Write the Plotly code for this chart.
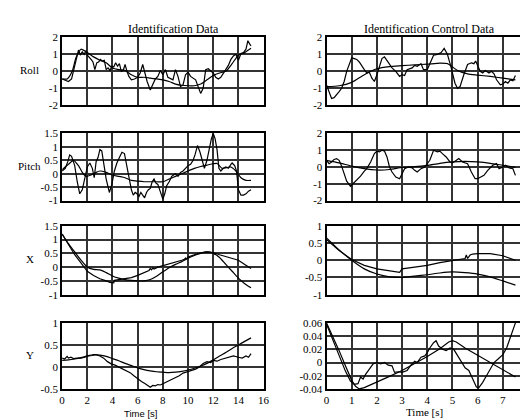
import plotly.graph_objects as go

# ---------------- data (time [s], value) ----------------
roll_id_meas = [(0,-0.45),(0.25,-0.55),(0.5,-0.6),(0.75,-0.45),(1.0,0.4),(1.15,0.9),(1.3,1.25),(1.45,0.95),
    (1.6,1.15),(1.75,1.0),(1.9,1.2),(2.0,0.95),(2.15,0.85),(2.3,0.7),(2.45,0.55),(2.6,0.1),(2.75,0.5),
    (2.9,0.55),(3.05,0.7),(3.2,0.6),(3.35,0.65),(3.5,0.1),(3.65,0.2),(3.8,0.05),(3.95,0.3),(4.1,0.25),
    (4.25,0.5),(4.4,0.3),(4.55,0.45),(4.7,0.0),(4.85,0.05),(5.0,0.4),(5.15,0.0),(5.3,-0.3),(5.5,-0.5),
    (5.75,-0.45),(6.0,-0.35),(6.2,-0.1),(6.4,0.4),(6.55,0.0),(6.75,-0.6),(7.0,-1.1),(7.2,-0.75),(7.4,-0.45),
    (7.6,-0.3),(7.8,0.05),(8.0,-0.2),(8.2,0.1),(8.4,-0.35),(8.6,-0.45),(8.8,-0.5),(9.0,0.1),(9.2,-0.3),
    (9.4,-0.9),(9.6,-0.8),(9.8,-0.2),(10.0,-0.05),(10.2,-0.3),(10.4,-0.4),(10.6,-0.5),(10.8,-0.9),(11.0,-1.3),
    (11.2,-1.0),(11.4,0.1),(11.6,0.15),(11.8,0.0),(12.0,-0.1),(12.2,-0.35),(12.4,-0.45),(12.6,-0.35),
    (12.8,-0.1),(13.0,0.1),(13.2,0.35),(13.4,0.7),(13.6,0.9),(13.8,1.0),(14.0,0.65),(14.2,1.05),(14.4,1.1),
    (14.6,1.3),(14.75,1.8),(14.9,1.6),(15.0,1.5)]
roll_id_model = [(0,-0.45),(0.4,-0.45),(0.8,0.0),(1.1,0.8),(1.5,1.3),(2.0,1.1),(2.5,0.85),(3.0,0.65),
    (3.5,0.5),(4.0,0.2),(4.5,0.1),(5.0,0.05),(5.5,-0.2),(6.0,-0.35),(6.5,-0.35),(7.0,-0.4),(7.5,-0.45),
    (8.0,-0.5),(8.5,-0.6),(9.0,-0.75),(9.5,-0.82),(10.0,-0.85),(10.5,-0.85),(11.0,-0.75),(11.5,-0.5),
    (12.0,-0.25),(12.5,-0.1),(13.0,0.0),(13.5,0.45),(14.0,0.95),(14.5,1.1),(15.0,1.35)]

pitch_id_meas = [(0,0.1),(0.25,0.2),(0.45,0.45),(0.6,0.7),(0.75,0.65),(1.0,0.3),(1.2,-0.3),(1.4,-0.75),
    (1.6,-0.6),(1.8,-0.2),(2.0,0.25),(2.2,0.4),(2.4,0.2),(2.55,-0.15),(2.7,0.45),(2.85,0.6),(3.0,0.9),
    (3.15,0.85),(3.3,0.4),(3.5,-0.2),(3.75,-0.7),(3.95,-0.4),(4.15,0.1),(4.35,0.4),(4.55,0.6),(4.75,0.8),
    (4.95,0.75),(5.15,0.2),(5.35,-0.3),(5.5,-0.6),(5.65,-0.8),(5.8,-0.7),(5.95,-0.75),(6.1,-0.85),
    (6.25,-0.7),(6.4,-0.8),(6.55,-0.9),(6.7,-0.7),(6.85,-0.6),(7.0,-0.55),(7.15,-0.3),(7.3,-0.2),
    (7.45,-0.35),(7.6,-0.4),(7.8,-0.7),(8.0,-0.95),(8.15,-0.75),(8.3,-0.45),(8.5,-0.3),(8.7,-0.1),
    (8.85,-0.05),(9.0,0.0),(9.2,-0.1),(9.4,0.05),(9.6,0.1),(9.8,0.2),(10.0,0.3),(10.2,0.35),(10.4,0.5),
    (10.55,0.7),(10.75,1.05),(10.95,0.8),(11.1,0.5),(11.3,0.2),(11.5,0.5),(11.7,1.0),(11.85,1.3),
    (12.0,1.5),(12.15,1.3),(12.3,0.9),(12.45,0.2),(12.6,0.1),(12.8,0.2),(13.0,0.25),(13.2,0.2),
    (13.4,0.35),(13.5,0.4),(13.7,0.3),(13.85,0.1),(14.0,-0.6),(14.2,-0.8),(14.4,-0.8),(14.6,-0.75),
    (14.8,-0.65),(15.0,-0.6)]
pitch_id_model = [(0,0.15),(0.5,0.35),(0.9,0.5),(1.3,0.3),(1.6,0.05),(1.9,-0.1),(2.3,-0.05),(2.7,0.05),
    (3.0,0.1),(3.5,0.05),(4.0,-0.05),(4.5,-0.1),(5.0,-0.15),(5.5,-0.25),(6.0,-0.28),(6.5,-0.3),(7.0,-0.3),
    (7.5,-0.3),(8.0,-0.3),(8.5,-0.2),(9.0,-0.1),(9.5,0.0),(10.0,0.1),(10.5,0.2),(11.0,0.27),(11.5,0.32),
    (12.0,0.37),(12.3,0.38),(12.7,0.2),(13.0,0.22),(13.4,0.25),(13.8,0.1),(14.2,-0.15),(14.6,-0.25),
    (15.0,-0.25)]

x_id_meas = [(0,1.2),(0.3,0.95),(0.6,0.75),(1.0,0.45),(1.5,0.15),(2.0,-0.15),(2.5,-0.3),(3.0,-0.42),
    (3.5,-0.5),(3.8,-0.55),(4.1,-0.57),(4.15,-0.48),(4.5,-0.45),(5.0,-0.42),(5.5,-0.38),(6.0,-0.3),
    (6.5,-0.2),(6.9,-0.12),(7.0,-0.05),(7.1,-0.1),(7.2,-0.03),(7.3,-0.07),(7.6,0.0),(8.0,0.05),(8.5,0.1),
    (9.0,0.17),(9.5,0.25),(9.7,0.28),(9.8,0.33),(9.9,0.3),(10.0,0.37),(10.5,0.45),(11.0,0.52),(11.5,0.55),
    (11.8,0.55),(12.0,0.53),(12.5,0.45),(13.0,0.38),(13.5,0.33),(14.0,0.25),(14.5,0.1),(15.0,-0.05)]
x_id_model = [(0,1.2),(0.5,0.85),(1.0,0.55),(1.5,0.25),(2.0,0.0),(2.5,-0.08),(3.0,-0.1),(3.5,-0.2),
    (4.0,-0.32),(4.5,-0.4),(5.0,-0.45),(5.5,-0.48),(6.0,-0.5),(6.5,-0.5),(7.0,-0.45),(7.5,-0.33),
    (8.0,-0.17),(8.5,-0.02),(9.0,0.1),(9.5,0.2),(10.0,0.32),(10.5,0.42),(11.0,0.5),(11.5,0.55),(12.0,0.5),
    (12.5,0.35),(13.0,0.1),(13.5,-0.15),(14.0,-0.4),(14.5,-0.6),(15.0,-0.75)]

y_id_meas = [(0,0.2),(0.2,0.18),(0.4,0.24),(0.5,0.2),(0.7,0.22),(0.9,0.19),(1.2,0.2),(1.5,0.2),(1.8,0.22),
    (2.1,0.25),(2.4,0.26),(2.7,0.28),(3.0,0.25),(3.3,0.2),(3.6,0.12),(3.9,0.07),(4.2,0.04),(4.5,0.0),
    (4.8,-0.05),(5.1,-0.08),(5.4,-0.13),(5.7,-0.2),(6.0,-0.27),(6.3,-0.33),(6.6,-0.38),(6.8,-0.42),
    (7.0,-0.46),(7.2,-0.42),(7.4,-0.43),(7.6,-0.4),(7.8,-0.41),(8.0,-0.38),(8.3,-0.34),(8.6,-0.3),
    (9.0,-0.25),(9.3,-0.2),(9.6,-0.14),(10.0,-0.1),(10.3,-0.07),(10.6,-0.05),(10.9,0.0),(11.2,0.08),
    (11.5,0.12),(11.8,0.1),(12.0,0.15),(12.3,0.13),(12.6,0.17),(13.0,0.2),(13.3,0.22),(13.6,0.25),
    (14.0,0.22),(14.3,0.2),(14.6,0.25),(14.8,0.22),(15.0,0.3)]
y_id_model = [(0,0.15),(0.5,0.16),(1.0,0.18),(1.5,0.21),(2.0,0.25),(2.5,0.28),(3.0,0.27),(3.5,0.24),
    (4.0,0.19),(4.5,0.14),(5.0,0.08),(5.5,0.03),(6.0,-0.02),(6.5,-0.06),(7.0,-0.09),(7.5,-0.11),
    (8.0,-0.12),(8.5,-0.13),(9.0,-0.12),(9.5,-0.1),(10.0,-0.07),(10.5,-0.03),(11.0,0.02),(11.5,0.08),
    (12.0,0.16),(12.5,0.25),(13.0,0.33),(13.5,0.42),(14.0,0.5),(14.5,0.58),(15.0,0.66)]

roll_ctl_meas = [(0,-0.8),(0.1,-1.2),(0.2,-1.6),(0.3,-1.55),(0.4,-1.4),(0.5,-1.2),(0.6,-1.0),(0.7,-0.6),
    (0.8,0.0),(0.9,0.4),(1.0,0.8),(1.1,0.75),(1.2,0.7),(1.3,0.55),(1.4,0.3),(1.5,0.1),(1.6,-0.1),
    (1.7,-0.05),(1.8,-0.4),(1.9,-0.6),(2.0,-0.2),(2.1,0.3),(2.2,0.75),(2.3,0.85),(2.4,0.65),(2.5,0.4),
    (2.6,0.2),(2.75,0.0),(2.9,-0.3),(3.0,-0.2),(3.1,-0.25),(3.2,0.1),(3.4,0.2),(3.5,0.35),(3.6,0.3),
    (3.75,0.45),(3.85,0.1),(4.0,0.1),(4.1,0.45),(4.25,0.95),(4.4,1.0),(4.55,1.1),(4.67,1.35),(4.8,1.0),
    (4.95,0.2),(5.1,-0.7),(5.2,-1.0),(5.3,-0.9),(5.45,-0.2),(5.6,0.4),(5.75,0.5),(5.85,0.45),(5.92,0.6),
    (6.0,0.3),(6.1,0.0),(6.2,-0.1),(6.3,0.05),(6.45,-0.1),(6.55,0.0),(6.65,-0.15),(6.75,-0.5),(6.9,-0.8),
    (7.0,-0.75),(7.1,-0.6),(7.2,-0.7),(7.3,-0.5),(7.4,-0.55),(7.5,-0.25)]
roll_ctl_model = [(0,-0.9),(0.5,-0.85),(1.0,-0.65),(1.5,-0.2),(2.0,0.15),(2.5,0.28),(3.0,0.33),(3.5,0.38),
    (4.0,0.42),(4.5,0.48),(4.8,0.45),(5.2,0.05),(5.6,-0.15),(6.0,-0.22),(6.5,-0.3),(7.0,-0.4),(7.5,-0.5)]

pitch_ctl_meas = [(0,0.4),(0.1,0.2),(0.2,0.3),(0.3,0.45),(0.4,0.5),(0.5,0.4),(0.6,0.05),(0.7,-0.4),
    (0.8,-0.85),(0.95,-1.15),(1.05,-1.0),(1.15,-0.85),(1.25,-0.75),(1.35,-0.55),(1.5,-0.25),(1.6,-0.1),
    (1.75,0.3),(1.9,0.8),(2.0,0.95),(2.1,0.9),(2.2,1.0),(2.3,0.95),(2.4,0.6),(2.5,0.0),(2.6,-0.3),
    (2.75,-0.6),(2.9,-0.7),(3.0,-0.4),(3.1,-0.1),(3.25,0.0),(3.4,-0.05),(3.5,-0.2),(3.6,-0.3),(3.75,-0.1),
    (3.9,0.0),(4.1,0.4),(4.25,1.0),(4.4,0.9),(4.5,0.95),(4.6,0.8),(4.75,0.6),(4.9,0.3),(5.0,0.25),
    (5.1,0.35),(5.25,0.5),(5.4,0.3),(5.6,0.2),(5.75,-0.3),(5.9,-0.7),(6.0,-0.7),(6.1,-0.6),(6.25,-0.5),
    (6.4,-0.2),(6.6,0.1),(6.75,0.2),(6.85,-0.1),(7.0,0.0),(7.1,0.1),(7.25,-0.05),(7.4,-0.1),(7.5,-0.5)]
pitch_ctl_model = [(0,0.4),(0.5,0.25),(1.0,0.05),(1.5,-0.1),(2.0,-0.18),(2.5,-0.15),(3.0,-0.03),(3.5,0.02),
    (4.0,0.1),(4.5,0.22),(5.0,0.3),(5.5,0.33),(6.0,0.3),(6.5,0.22),(7.0,0.1),(7.5,-0.02)]

x_ctl_meas = [(0,0.6),(0.5,0.28),(1.0,0.02),(1.5,-0.15),(2.0,-0.25),(2.5,-0.3),(2.9,-0.35),(2.95,-0.3),
    (3.0,-0.25),(3.5,-0.2),(4.0,-0.15),(4.5,-0.07),(5.0,0.0),(5.3,0.03),(5.5,0.05),(5.55,0.15),(5.6,0.05),
    (5.7,0.15),(5.8,0.18),(6.0,0.19),(6.5,0.19),(7.0,0.13),(7.5,0.0)]
x_ctl_model = [(0,0.65),(0.5,0.3),(1.0,0.0),(1.5,-0.25),(2.0,-0.4),(2.5,-0.48),(3.0,-0.5),(3.5,-0.46),
    (4.0,-0.42),(4.5,-0.37),(5.0,-0.34),(5.5,-0.36),(6.0,-0.4),(6.5,-0.48),(7.0,-0.6),(7.5,-0.72)]

y_ctl_meas = [(0,0.058),(0.25,0.035),(0.5,0.01),(0.75,-0.013),(0.95,-0.028),(1.1,-0.033),(1.25,-0.032),
    (1.35,-0.022),(1.45,-0.025),(1.55,-0.018),(1.7,-0.01),(1.85,-0.002),(2.0,0.0),(2.15,-0.002),(2.3,0.0),
    (2.45,-0.004),(2.6,-0.005),(2.7,-0.015),(2.85,-0.014),(3.0,-0.015),(3.2,-0.012),(3.35,-0.004),
    (3.5,0.002),(3.6,0.0),(3.75,0.008),(3.9,0.01),(4.0,0.015),(4.1,0.022),(4.25,0.03),(4.35,0.033),
    (4.45,0.025),(4.6,0.02),(4.75,0.018),(4.9,0.022),(5.05,0.02),(5.2,0.01),(5.35,0.0),(5.5,-0.008),
    (5.65,-0.012),(5.8,-0.025),(5.95,-0.037),(6.05,-0.038),(6.2,-0.03),(6.35,-0.02),(6.5,-0.01),
    (6.65,0.0),(6.8,0.005),(7.0,0.012),(7.15,0.022),(7.3,0.038),(7.5,0.06)]
y_ctl_model = [(0,0.06),(0.25,0.04),(0.5,0.018),(0.75,-0.005),(1.0,-0.027),(1.15,-0.036),(1.3,-0.04),
    (1.5,-0.038),(2.0,-0.03),(2.5,-0.021),(3.0,-0.012),(3.5,-0.002),(4.0,0.009),(4.5,0.021),(4.85,0.031),
    (5.0,0.033),(5.15,0.031),(5.5,0.022),(6.0,0.011),(6.5,0.0),(7.0,-0.011),(7.5,-0.022)]

row_labels = ["Roll", "Pitch", "X", "Y"]
col_titles = ["Identification Data", "Identification Control Data"]

left_yticks = [[-2, -1, 0, 1, 2], [-1, -0.5, 0, 0.5, 1, 1.5], [-1, -0.5, 0, 0.5, 1, 1.5], [-0.5, 0, 0.5, 1]]
right_yticks = [[-2, -1, 0, 1, 2], [-2, -1, 0, 1, 2], [-1, -0.5, 0, 0.5, 1],
                [-0.04, -0.02, 0, 0.02, 0.04, 0.06]]
left_yrange = [[-2, 2], [-1, 1.5], [-1, 1.5], [-0.5, 1]]
right_yrange = [[-2, 2], [-2, 2], [-1, 1], [-0.04, 0.06]]
left_xticks = [0, 2, 4, 6, 8, 10, 12, 14, 16]
right_xticks = [0, 1, 2, 3, 4, 5, 6, 7, 8]

left_series = [(roll_id_meas, roll_id_model), (pitch_id_meas, pitch_id_model),
               (x_id_meas, x_id_model), (y_id_meas, y_id_model)]
right_series = [(roll_ctl_meas, roll_ctl_model), (pitch_ctl_meas, pitch_ctl_model),
                (x_ctl_meas, x_ctl_model), (y_ctl_meas, y_ctl_model)]

# ---------------- layout geometry ----------------
W, H = 528, 419
col_px = [(52, 257), (321, 526)]
row_px = [(24, 94), (123, 192), (218, 289), (318, 386)]

def fmt(v):
    return "%g" % v

SERIF = "Liberation Serif, Times New Roman, serif"

fig = go.Figure()
layout = dict(width=W, height=H, autosize=False, margin=dict(l=0, r=0, t=0, b=0),
              paper_bgcolor="white", plot_bgcolor="white", showlegend=False,
              font=dict(family=SERIF, size=11, color="black"))

annotations = []
idx = 0
for c in range(2):
    for r in range(4):
        idx += 1
        xa = "x" if idx == 1 else "x%d" % idx
        ya = "y" if idx == 1 else "y%d" % idx
        x0, x1 = col_px[c]
        y0, y1 = row_px[r]
        xticks = left_xticks if c == 0 else right_xticks
        yticks = (left_yticks if c == 0 else right_yticks)[r]
        yrange = (left_yrange if c == 0 else right_yrange)[r]
        xrange = [0, 16] if c == 0 else [0, 8]
        layout["xaxis" if idx == 1 else "xaxis%d" % idx] = dict(
            domain=[x0 / W, x1 / W], anchor=ya, range=xrange, tickvals=xticks,
            ticktext=[fmt(v) for v in xticks], showticklabels=(r == 3),
            showgrid=True, gridcolor="#333333", gridwidth=1.6, zeroline=False,
            showline=True, linecolor="black", linewidth=2, mirror=True, ticks="",
            tickfont=dict(family=SERIF, size=11, color="black"), fixedrange=True)
        layout["yaxis" if idx == 1 else "yaxis%d" % idx] = dict(
            domain=[1 - y1 / H, 1 - y0 / H], anchor=xa, range=yrange, tickvals=yticks,
            ticktext=[fmt(v) for v in yticks], showgrid=True, gridcolor="#333333", gridwidth=1.6,
            zeroline=False, showline=True, linecolor="black", linewidth=2, mirror=True, ticks="",
            tickfont=dict(family=SERIF, size=11, color="black"), fixedrange=True)
        meas, model = (left_series if c == 0 else right_series)[r]
        fig.add_trace(go.Scatter(x=[p[0] for p in model], y=[p[1] for p in model], mode="lines",
                                 line=dict(color="black", width=1.2,
                                           shape="linear" if (c == 1 and r == 3) else "spline",
                                           smoothing=0.6),
                                 xaxis=xa, yaxis=ya, hoverinfo="skip"))
        fig.add_trace(go.Scatter(x=[p[0] for p in meas], y=[p[1] for p in meas], mode="lines",
                                 line=dict(color="black", width=1.2),
                                 xaxis=xa, yaxis=ya, hoverinfo="skip"))

# row labels
for r, lab in enumerate(row_labels):
    y0, y1 = row_px[r]
    annotations.append(dict(text=lab, x=19 / W, y=1 - ((y0 + y1) / 2 - 1) / H, xref="paper", yref="paper",
                            showarrow=False, xanchor="center", yanchor="middle",
                            font=dict(family=SERIF, size=11, color="black")))
# column titles
for c, t in enumerate(col_titles):
    cx = [165, 426][c]
    annotations.append(dict(text=t, x=cx / W, y=1 - 15 / H, xref="paper", yref="paper",
                            showarrow=False, xanchor="center", yanchor="middle",
                            font=dict(family=SERIF, size=12, color="black")))
# x axis titles
annotations.append(dict(text="Time [s]", x=132 / W, y=1 - 411 / H, xref="paper", yref="paper",
                        showarrow=False, xanchor="center", yanchor="middle",
                        font=dict(family="Liberation Sans, Arial, sans-serif", size=9.5, color="black")))
annotations.append(dict(text="Time [s]", x=421 / W, y=1 - 410 / H, xref="paper", yref="paper",
                        showarrow=False, xanchor="center", yanchor="middle",
                        font=dict(family=SERIF, size=11, color="black")))
layout["annotations"] = annotations
fig.update_layout(**layout)
fig.write_html("out.html")
